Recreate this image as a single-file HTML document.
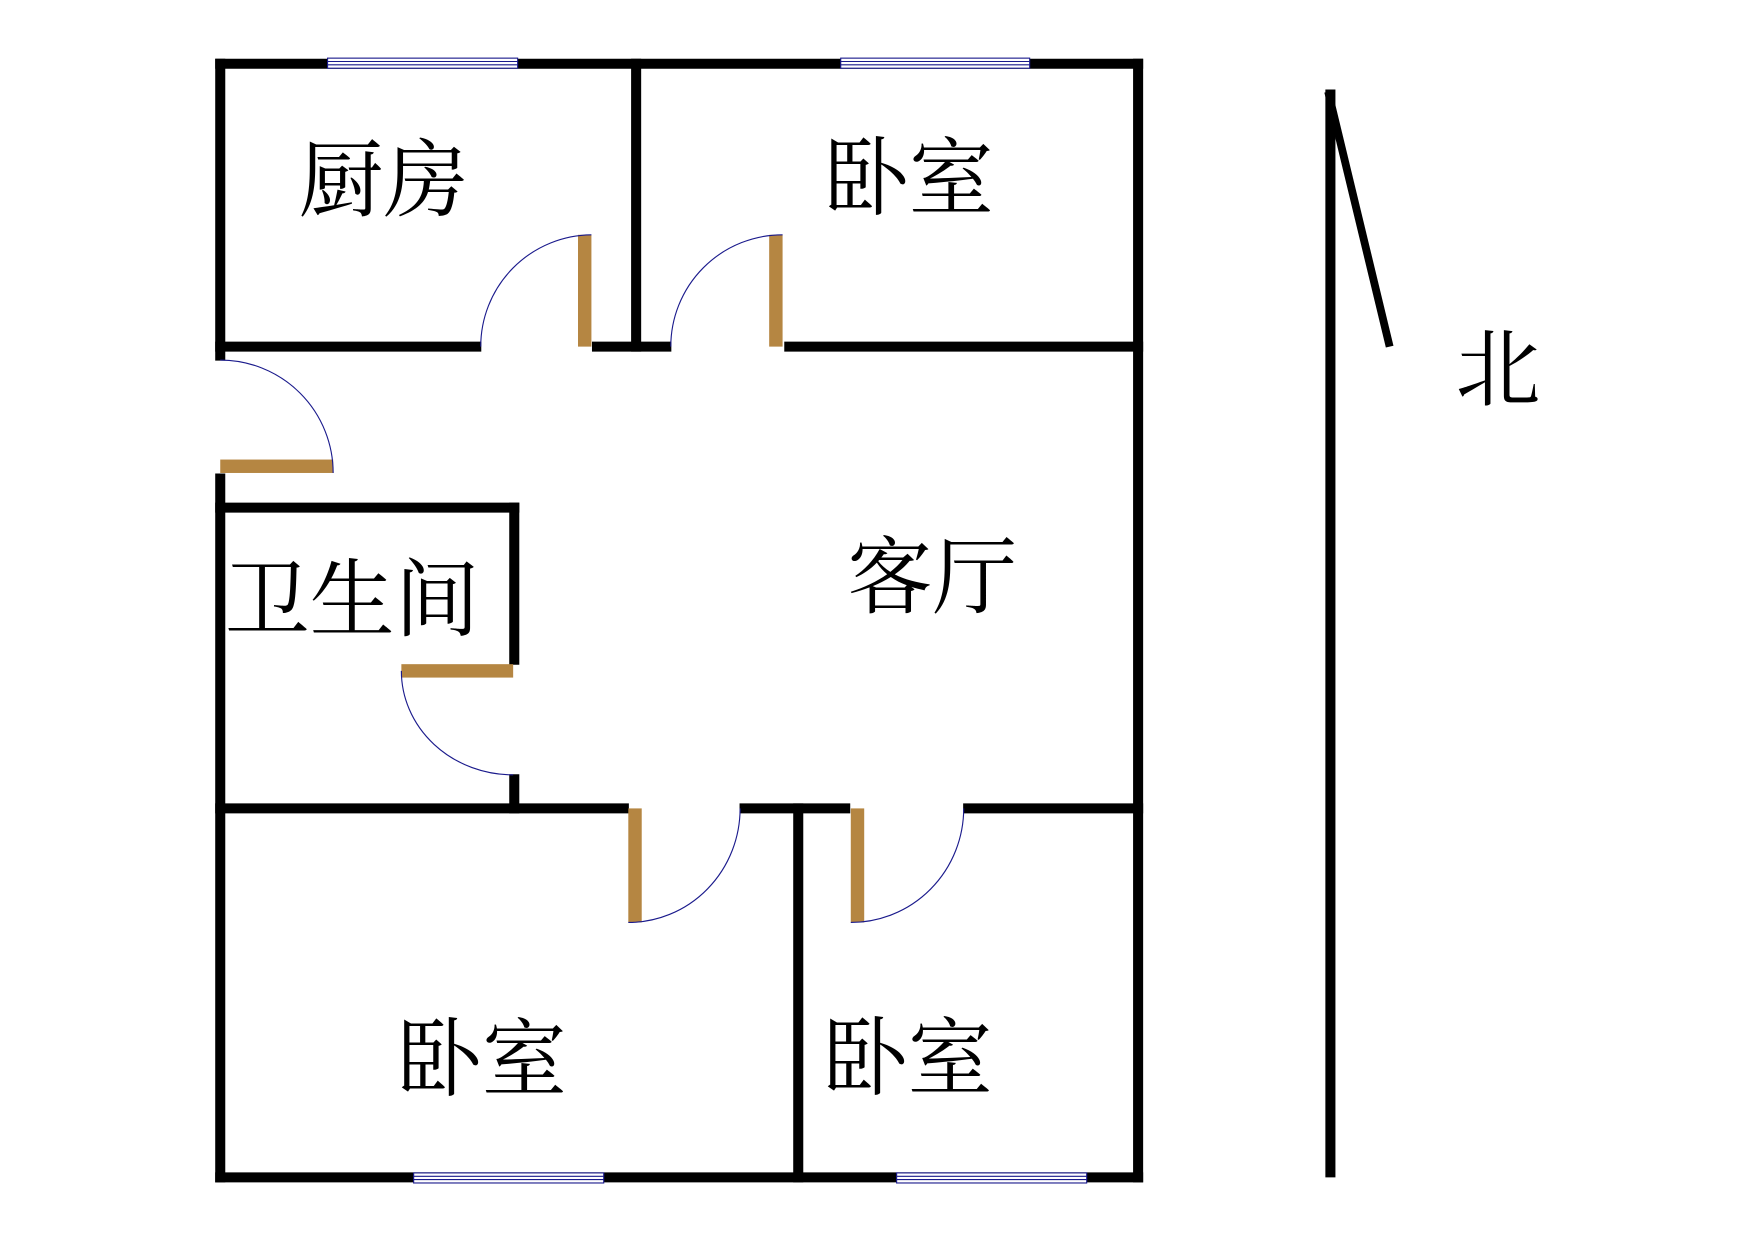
<!DOCTYPE html>
<html><head><meta charset="utf-8"><style>html,body{margin:0;padding:0;background:#fff}svg{display:block}</style></head>
<body>
<svg width="1753" height="1240" viewBox="0 0 1568 1109" preserveAspectRatio="none" xmlns="http://www.w3.org/2000/svg">
<rect width="1568" height="1109" fill="#fff"/>
<g stroke="#000" stroke-width="9" stroke-linecap="square" fill="none">
<line x1="197" y1="57" x2="1018" y2="57"/>
<line x1="197" y1="1053" x2="1018" y2="1053"/>
<line x1="1018" y1="57" x2="1018" y2="1053"/>
<line x1="197" y1="57" x2="197" y2="318"/>
<line x1="197" y1="428" x2="197" y2="1053"/>
<line x1="569" y1="57" x2="569" y2="310"/>
<line x1="197" y1="310" x2="426" y2="310"/>
<line x1="534" y1="310" x2="596" y2="310"/>
<line x1="706" y1="310" x2="1018" y2="310"/>
<line x1="197" y1="454" x2="460" y2="454"/>
<line x1="460" y1="454" x2="460" y2="590"/>
<line x1="460" y1="697" x2="460" y2="723"/>
<line x1="197" y1="723" x2="558" y2="723"/>
<line x1="666" y1="723" x2="756" y2="723"/>
<line x1="866" y1="723" x2="1018" y2="723"/>
<line x1="714" y1="723" x2="714" y2="1053"/>
</g>
<g fill="#fff" stroke="#1a1a8c" stroke-width="1">
<rect x="293" y="52" width="170" height="9"/><line x1="293" y1="55" x2="463" y2="55"/><line x1="293" y1="58" x2="463" y2="58"/>
<rect x="752" y="52" width="169" height="9"/><line x1="752" y1="55" x2="921" y2="55"/><line x1="752" y1="58" x2="921" y2="58"/>
<rect x="370" y="1049" width="170" height="9"/><line x1="370" y1="1052" x2="540" y2="1052"/><line x1="370" y1="1055" x2="540" y2="1055"/>
<rect x="802" y="1049" width="170" height="9"/><line x1="802" y1="1052" x2="972" y2="1052"/><line x1="802" y1="1055" x2="972" y2="1055"/>
</g>
<g fill="#b58642">
<rect x="517" y="210" width="12" height="100"/>
<rect x="688" y="210" width="12" height="100"/>
<rect x="197" y="411" width="101" height="12"/>
<rect x="359" y="594" width="100" height="12"/>
<rect x="562" y="723" width="12" height="102"/>
<rect x="761" y="723" width="12" height="102"/>
</g>
<g fill="none" stroke="#1a1a8c" stroke-width="1">
<path d="M529 210 A100 100 0 0 0 430 310"/>
<path d="M700 210 A100 100 0 0 0 600 310"/>
<path d="M197 322 A101 101 0 0 1 298 423"/>
<path d="M359 600 A100 93 0 0 0 459 693"/>
<path d="M562 825 A100 102 0 0 0 662 723"/>
<path d="M761 825 A101 102 0 0 0 862 723"/>
</g>
<line x1="1190" y1="80" x2="1190" y2="1053" stroke="#000" stroke-width="9"/>
<line x1="1188" y1="82" x2="1243" y2="310" stroke="#000" stroke-width="7"/>
<g font-family="'Liberation Serif','Noto Serif CJK SC',serif" font-size="76" fill="#000" text-anchor="middle">
<text x="343" y="188">厨房</text>
<text x="813" y="186">卧室</text>
<text x="315" y="563">卫生间</text>
<text x="834" y="543">客厅</text>
<text x="431" y="974">卧室</text>
<text x="812" y="973">卧室</text>
<text x="1340" y="357">北</text>
</g>
</svg>
</body></html>
